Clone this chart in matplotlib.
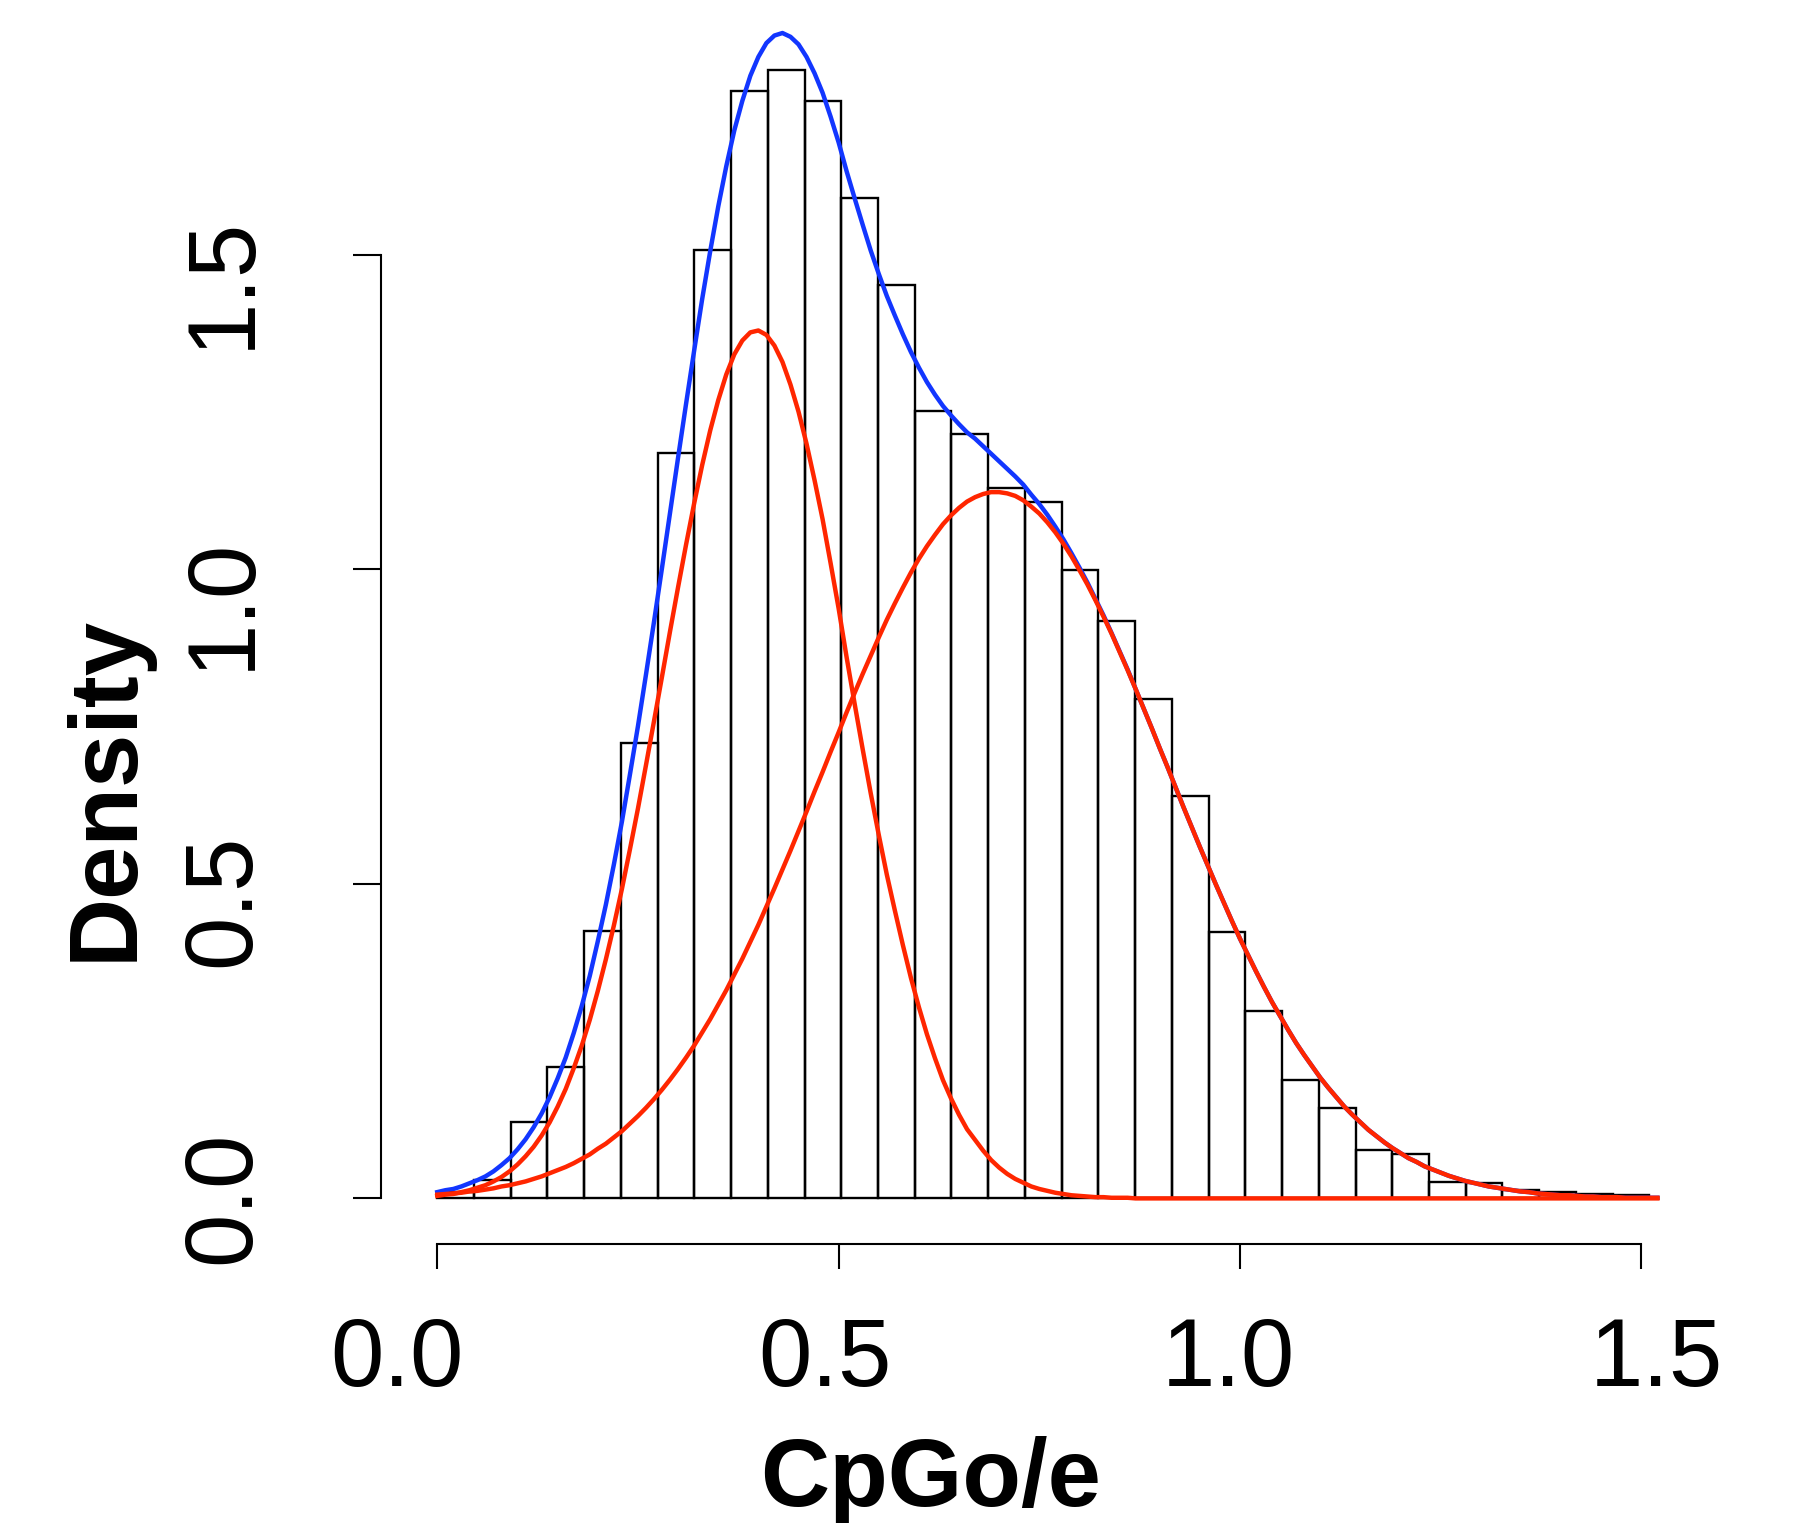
import numpy as np
import matplotlib
matplotlib.use("Agg")
import matplotlib.pyplot as plt
from matplotlib.transforms import blended_transform_factory, ScaledTranslation

plt.rcParams['font.family'] = ['Liberation Sans', 'DejaVu Sans']

# ---------------- data ----------------
# histogram (density) bar heights, 33 equal bins spanning hist_min..hist_max
bar_heights = [0.010, 0.029, 0.122, 0.209, 0.425, 0.7245, 1.1845, 1.508, 1.761,
               1.794, 1.745, 1.590, 1.453, 1.252, 1.2147, 1.129, 1.1077, 0.999,
               0.918, 0.794, 0.640, 0.424, 0.298, 0.189, 0.143, 0.077, 0.0706,
               0.0266, 0.025, 0.0134, 0.0097, 0.0075, 0.005]
hist_min, hist_max = 0.0, 1.51

# curves read every 0.01 along x (0.00 .. 1.52)
curve_x = [round(0.01 * i, 2) for i in range(153)]

# first mixture component (red)
comp1_density = [
    0.004, 0.006, 0.007, 0.010, 0.013, 0.017, 0.021, 0.027, 0.034, 0.043,
    0.054, 0.067, 0.082, 0.100, 0.121, 0.146, 0.174, 0.207, 0.243, 0.284,
    0.330, 0.380, 0.434, 0.492, 0.555, 0.620, 0.689, 0.759, 0.830, 0.902,
    0.972, 1.040, 1.105, 1.166, 1.221, 1.269, 1.310, 1.342, 1.364, 1.377,
    1.380, 1.373, 1.356, 1.330, 1.294, 1.251, 1.200, 1.142, 1.080, 1.010,
    0.938, 0.860, 0.786, 0.714, 0.644, 0.578, 0.515, 0.458, 0.403, 0.351,
    0.304, 0.261, 0.223, 0.188, 0.159, 0.133, 0.110, 0.093, 0.076, 0.061,
    0.049, 0.039, 0.031, 0.025, 0.019, 0.015, 0.012, 0.009, 0.007, 0.005,
    0.004, 0.003, 0.002, 0.002, 0.001, 0.001, 0.001] + [0.0] * 66

# second mixture component (red)
comp2_density = [
    0.006, 0.007, 0.008, 0.009, 0.011, 0.012, 0.014, 0.016, 0.019, 0.021,
    0.024, 0.027, 0.031, 0.035, 0.040, 0.045, 0.050, 0.056, 0.063, 0.070,
    0.079, 0.087, 0.097, 0.107, 0.119, 0.131, 0.144, 0.158, 0.173, 0.189,
    0.206, 0.224, 0.243, 0.264, 0.285, 0.308, 0.331, 0.356, 0.381, 0.408,
    0.435, 0.464, 0.493, 0.523, 0.553, 0.584, 0.615, 0.647, 0.678, 0.710,
    0.741, 0.773, 0.804, 0.834, 0.863, 0.892, 0.920, 0.946, 0.971, 0.995,
    1.017, 1.037, 1.055, 1.072, 1.086, 1.098, 1.108, 1.115, 1.120, 1.123,
    1.123, 1.121, 1.117, 1.110, 1.100, 1.089, 1.075, 1.059, 1.041, 1.021,
    0.999, 0.976, 0.951, 0.925, 0.898, 0.869, 0.840, 0.810, 0.779, 0.748,
    0.716, 0.685, 0.653, 0.621, 0.590, 0.559, 0.529, 0.499, 0.470, 0.441,
    0.413, 0.387, 0.361, 0.336, 0.312, 0.290, 0.268, 0.247, 0.228, 0.210,
    0.192, 0.176, 0.161, 0.146, 0.133, 0.121, 0.109, 0.099, 0.089, 0.080,
    0.072, 0.064, 0.058, 0.051, 0.046, 0.041, 0.036, 0.032, 0.028, 0.025,
    0.022, 0.019, 0.017, 0.015, 0.013, 0.011, 0.010, 0.008, 0.007, 0.006,
    0.005, 0.005, 0.004, 0.003, 0.003, 0.002, 0.002, 0.002, 0.001, 0.001,
    0.001, 0.001, 0.001]

# total mixture density (blue)
mixture_density = [
    0.010, 0.013, 0.015, 0.019, 0.024, 0.029, 0.035, 0.043, 0.053, 0.064,
    0.078, 0.094, 0.113, 0.135, 0.161, 0.191, 0.224, 0.263, 0.306, 0.354,
    0.409, 0.467, 0.531, 0.599, 0.674, 0.751, 0.833, 0.917, 1.003, 1.091,
    1.178, 1.264, 1.348, 1.430, 1.506, 1.577, 1.641, 1.698, 1.745, 1.785,
    1.815, 1.837, 1.849, 1.853, 1.847, 1.835, 1.815, 1.789, 1.758, 1.720,
    1.679, 1.633, 1.590, 1.548, 1.507, 1.470, 1.435, 1.404, 1.374, 1.346,
    1.321, 1.298, 1.278, 1.260, 1.245, 1.231, 1.218, 1.208, 1.196, 1.184,
    1.172, 1.160, 1.148, 1.135, 1.119, 1.104, 1.087, 1.068, 1.048, 1.026,
    1.003, 0.979, 0.953, 0.927, 0.899, 0.870, 0.841, 0.810, 0.779, 0.748,
    0.716, 0.685, 0.653, 0.621, 0.590, 0.559, 0.529, 0.499, 0.470, 0.441,
    0.413, 0.387, 0.361, 0.336, 0.312, 0.290, 0.268, 0.247, 0.228, 0.210,
    0.192, 0.176, 0.161, 0.146, 0.133, 0.121, 0.109, 0.099, 0.089, 0.080,
    0.072, 0.064, 0.058, 0.051, 0.046, 0.041, 0.036, 0.032, 0.028, 0.025,
    0.022, 0.019, 0.017, 0.015, 0.013, 0.011, 0.010, 0.008, 0.007, 0.006,
    0.005, 0.005, 0.004, 0.003, 0.003, 0.002, 0.002, 0.002, 0.001, 0.001,
    0.001, 0.001, 0.001]

xtick_vals = [0.0, 0.5, 1.0, 1.5]
xtick_labels = ['0.0', '0.5', '1.0', '1.5']
ytick_vals = [0.0, 0.5, 1.0, 1.5]
ytick_labels = ['0.0', '0.5', '1.0', '1.5']
x_title = 'CpGo/e'
y_title = 'Density'

# ---------------- figure ----------------
W, H, DPI = 1793, 1523, 100
fig = plt.figure(figsize=(W / DPI, H / DPI), dpi=DPI)
ax_l, ax_b, ax_r, ax_t = 380.7, 1244, 1700, 20
ax = fig.add_axes([ax_l / W, (H - ax_b) / H, (ax_r - ax_l) / W, (ax_b - ax_t) / H])
ax.set_xlim(-0.0705, 1.5731)
ax.set_ylim(-0.0725, 1.8737)

edges = np.linspace(hist_min, hist_max, len(bar_heights) + 1)
ax.bar(edges[:-1], bar_heights, width=np.diff(edges), align='edge', fill=False,
       edgecolor='black', linewidth=1.7)

blue_c, red_c = '#1236ff', '#ff2600'
for ys, col in [(mixture_density, blue_c), (comp1_density, red_c), (comp2_density, red_c)]:
    n = min(len(ys), len(curve_x))
    ax.plot(curve_x[:n], ys[:n], color=col, lw=3.2, clip_on=False,
            solid_joinstyle='round')

for s in ['top', 'right']:
    ax.spines[s].set_visible(False)
ax.spines['left'].set_bounds(0, 1.5)
ax.spines['bottom'].set_bounds(0, 1.5)
ax.spines['left'].set_linewidth(1.5)
ax.spines['bottom'].set_linewidth(1.5)
ax.set_xticks(xtick_vals)
ax.set_yticks(ytick_vals)
ax.tick_params(axis='x', length=18, width=1.5, labelbottom=False)
ax.tick_params(axis='y', length=20, width=1.5, labelleft=False)

fs = 69
# x tick labels (positions follow the reference's slightly uneven placement)
tx = blended_transform_factory(ax.transData, ax.transAxes)
x_dx = [-40.5, -14, -12, 14.7]
for v, lab, dx in zip(xtick_vals, xtick_labels, x_dx):
    ax.text(v, -(1386 - ax_b) / (ax_b - ax_t), lab, fontsize=fs, ha='center', va='baseline',
            transform=tx + ScaledTranslation(dx / DPI, 0, fig.dpi_scale_trans))
# y tick labels, rotated as in R
ty = blended_transform_factory(ax.transAxes, ax.transData)
y_dy = [-1.4, 16, 33.7, 27.7]
for v, lab, dy in zip(ytick_vals, ytick_labels, y_dy):
    ax.text((249 - ax_l) / (ax_r - ax_l), v, lab, fontsize=fs, ha='center', va='baseline',
            rotation=90, rotation_mode='anchor',
            transform=ty + ScaledTranslation(0, -dy / DPI, fig.dpi_scale_trans))

ax.set_xlabel(x_title, fontsize=fs, fontweight='bold', va='baseline')
ax.xaxis.set_label_coords((930.5 - ax_l) / (ax_r - ax_l), -(1506 - ax_b) / (ax_b - ax_t))
ax.set_ylabel(y_title, fontsize=fs, fontweight='bold')
ax.yaxis.set_label_coords((152 - ax_l) / (ax_r - ax_l), (ax_b - 787.5) / (ax_b - ax_t))

fig.savefig('out.png', dpi=DPI)
